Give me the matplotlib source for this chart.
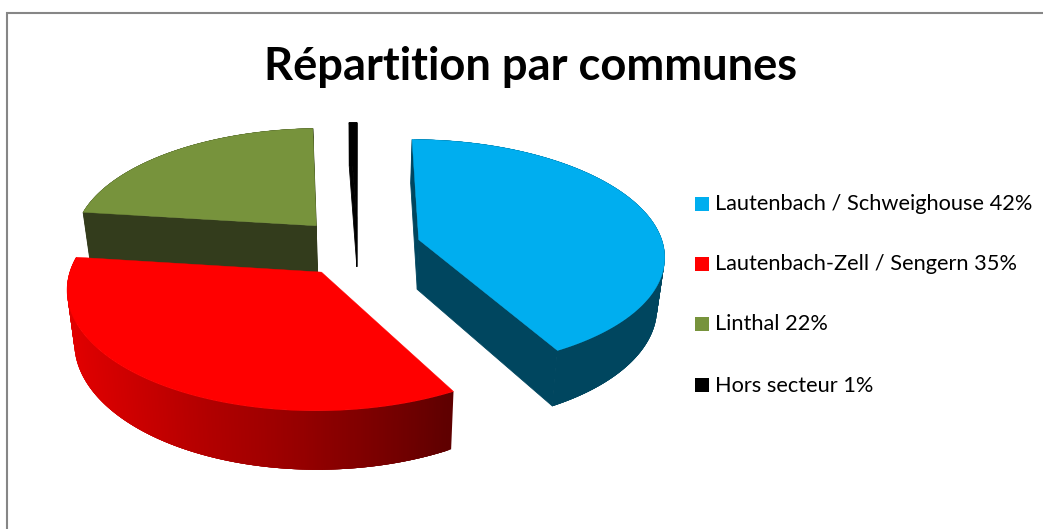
import matplotlib
matplotlib.use("Agg")
import matplotlib.pyplot as plt
from matplotlib.patches import Polygon, Rectangle
import numpy as np

title = "Répartition par communes"
communes = ["Lautenbach / Schweighouse", "Lautenbach-Zell / Sengern", "Linthal", "Hors secteur"]
values = [42.0, 35.0, 22.4, 0.6]
colors = ["#00aeef", "#ff0000", "#77933c", "#000000"]
side_colors = ["#00465f", None, "#333c1c", "#000000"]
draw_order = [3, 2, 0, 1]

# géométrie de la projection, en pixels
cx, cy = 358, 247
ax_a, ax_b = 245, 114.5
persp = 0.125
depth = 50
shrink = 0.975
explode = 0.258

def project(u, v):
    s = 1 / (1 - persp * v)
    return cx + ax_a * u * s, cy + ax_b * v * s, s

def top_point(u, v):
    x, y, s = project(u, v)
    return x, y

def bottom_point(u, v):
    x, y, s = project(u, v)
    return cx + (x - cx) * shrink, y + depth * s

def red_shade(x):
    # dégradé de la paroi rouge, de gauche à droite
    r = np.interp(x, [70, 130, 200, 300, 400, 450], [225, 205, 180, 150, 115, 95])
    return (r / 255, 0, 0)

fig = plt.figure(figsize=(10.43, 5.29), dpi=100)
ax = fig.add_axes([0, 0, 1, 1])
ax.set_xlim(0, 1043)
ax.set_ylim(529, 0)
ax.axis("off")

# cadre
ax.plot([6.8, 6.8, 1043], [529, 13, 13], color="#868686", lw=1.5, solid_joinstyle="miter")

edges = np.concatenate([[0], np.cumsum(values)]) / sum(values) * 2 * np.pi

for i in draw_order:
    t0, t1 = edges[i], edges[i + 1]
    mid = (t0 + t1) / 2
    ou, ov = explode * np.sin(mid), -explode * np.cos(mid)
    ts = np.linspace(t0, t1, 300)
    us = ou + np.sin(ts)
    vs = ov - np.cos(ts)

    rim_top = [top_point(u, v) for u, v in zip(us, vs)]
    rim_bottom = [bottom_point(u, v) for u, v in zip(us, vs)]

    # parois radiales
    if side_colors[i]:
        for j in [0, -1]:
            quad = [top_point(ou, ov), rim_top[j], rim_bottom[j], bottom_point(ou, ov)]
            ax.add_patch(Polygon(quad, closed=True, fc=side_colors[i], ec=side_colors[i], lw=0.6))

    # paroi extérieure, bandes qui se recouvrent pour éviter les raccords
    for j in range(len(ts) - 1):
        k = min(j + 4, len(ts) - 1)
        quad = [rim_top[j], rim_top[k], rim_bottom[k], rim_bottom[j]]
        c = side_colors[i] if side_colors[i] else red_shade(rim_top[j][0])
        ax.add_patch(Polygon(quad, closed=True, fc=c, ec="none"))

    # dessus
    ax.add_patch(Polygon([top_point(ou, ov)] + rim_top, closed=True, fc=colors[i], ec=colors[i], lw=0.3))

ax.text(531, 67, title, ha="center", va="center", fontsize=32.6, fontweight="bold",
        family="Lato", color="black")

legend_y = [204, 264, 324, 385]
for name, val, col, y in zip(communes, values, colors, legend_y):
    ax.add_patch(Rectangle((695, y - 7), 14, 14, fc=col, ec="none"))
    ax.text(715, y + 0.5, f"{name} {val:.0f}%", ha="left", va="center", fontsize=15.7, family="Lato", color="black")

fig.savefig("out.png", dpi=100)
